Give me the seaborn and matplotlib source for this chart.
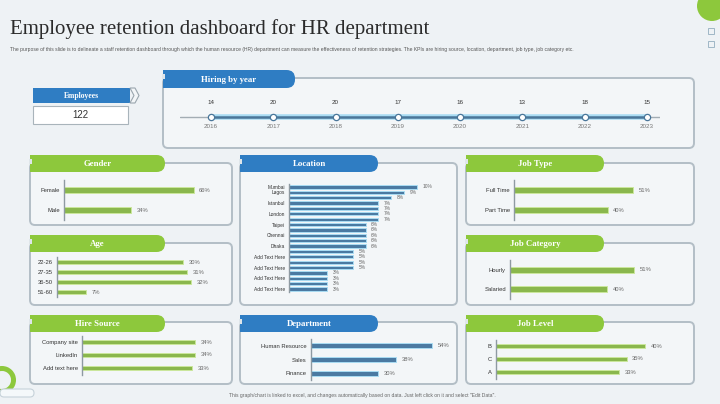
import matplotlib
matplotlib.use('Agg')
import matplotlib.pyplot as plt
from matplotlib.patches import FancyBboxPatch, Rectangle, Polygon, Circle, Wedge
import seaborn as sns
import pandas as pd

# data
years = [2016, 2017, 2018, 2019, 2020, 2021, 2022, 2023]
hires = [14, 20, 20, 17, 16, 13, 18, 15]
employees = 122

gender = ['Female', 'Male']
gender_pct = [66, 34]

age_groups = ['22-26', '27-35', '36-50', '51-60']
age_pct = [30, 31, 32, 7]

hire_source = ['Company site', 'LinkedIn', 'Add text here']
hire_pct = [34, 34, 33]

locations = ['Mumbai', 'Lagos', '', 'Istanbul', '', 'London', '', 'Taipei', '',
             'Chennai', '', 'Dhaka', '', 'Add Text Here', '', 'Add Text Here', '',
             'Add Text Here', '', 'Add Text Here']
loc_pct = [10, 9, 8, 7, 7, 7, 7, 6, 6, 6, 6, 6, 5, 5, 5, 5, 3, 3, 3, 3]

departments = ['Human Resource', 'Sales', 'Finance']
dept_pct = [54, 38, 30]

job_types = ['Full Time', 'Part Time']
jobtype_pct = [51, 40]

job_cats = ['Hourly', 'Salaried']
jobcat_pct = [51, 40]

job_levels = ['B', 'C', 'A']
level_pct = [40, 35, 33]

W, H = 720, 404
GREEN = '#8dc83c'
GREEN_EDGE = '#cbe79c'
BLUE = '#2f7dc3'
BAR_BLUE = '#3d7bb0'
BAR_BLUE_EDGE = '#a9dcf3'
SERIF = ['Liberation Serif', 'DejaVu Serif']

sns.set_theme(style='white')
plt.rcParams['font.family'] = ['Liberation Sans', 'DejaVu Sans']

fig = plt.figure(figsize=(7.2, 4.04), dpi=100, facecolor='#eef2f5')

# background layer in pixel coordinates
bg = fig.add_axes([0, 0, 1, 1])
bg.set_xlim(0, W)
bg.set_ylim(H, 0)
bg.axis('off')


def add_ax(x0, y0, x1, y1):
    a = fig.add_axes([x0 / W, 1 - y1 / H, (x1 - x0) / W, (y1 - y0) / H])
    a.set_facecolor('none')
    return a


def frame(x0, y0, x1, y1):
    bg.add_patch(FancyBboxPatch((x0, y0), x1 - x0, y1 - y0,
                                boxstyle='round,pad=0,rounding_size=5',
                                fc='#f3f6f8', ec='#b3bec6', lw=1.4))


def header(x0, y0, x1, y1, text, color):
    bg.add_patch(FancyBboxPatch((x0, y0), x1 - x0, y1 - y0,
                                boxstyle='round,pad=0,rounding_size=8.5',
                                fc=color, ec='none'))
    bg.add_patch(Rectangle((x0, y0), (x1 - x0) / 2, y1 - y0, fc=color, ec='none'))
    bg.add_patch(Rectangle((x0 - 1, y0 + 4), 3, 5, fc='#dfe6ea', ec='none'))
    bg.text((x0 + x1) / 2, (y0 + y1) / 2 + 0.5, text, ha='center', va='center',
            color='white', fontsize=6.3, fontweight='bold', family=SERIF)


def bar_panel(box, labels, values, xmax, color, edge, width, fs=4.2):
    ax = add_ax(*box)
    df = pd.DataFrame({'pos': range(len(labels)), 'pct': values})
    sns.barplot(data=df, x='pct', y='pos', orient='h', color=color, width=width,
                edgecolor=edge, linewidth=0.7, ax=ax)
    ax.set_yticks(range(len(labels)), labels=labels)
    ax.bar_label(ax.containers[0], labels=[f'{v}%' for v in values],
                 padding=4, fontsize=fs, color='#666666')
    ax.set_xlim(0, xmax)
    ax.set_xticks([])
    ax.set_xlabel('')
    ax.set_ylabel('')
    for s in ['top', 'right', 'bottom']:
        ax.spines[s].set_visible(False)
    ax.spines['left'].set_color('#8e9aa2')
    ax.spines['left'].set_linewidth(1)
    ax.tick_params(axis='y', length=0, pad=3, labelsize=fs, labelcolor='#333333')
    return ax


# title and subtitle
bg.text(10, 29, 'Employee retention dashboard for HR department', fontsize=15,
        family=SERIF, color='#2b2b2b', va='center')
bg.text(10, 50, 'The purpose of this slide is to delineate a staff retention dashboard through which '
        'the human resource (HR) department can measure the effectiveness of retention strategies. '
        'The KPIs are hiring source, location, department, job type, job category etc.',
        fontsize=3.6, color='#555555', va='center')

# corner decorations
bg.add_patch(Circle((712, 6), 15, fc=GREEN, ec='none'))
for yy in (31, 44):
    bg.add_patch(Rectangle((708, yy - 3), 6, 6, fc='none', ec='#9fb7c6', lw=0.7))
bg.add_patch(Wedge((2, 380), 14, 0, 360, width=5, fc=GREEN, ec='none'))
bg.add_patch(FancyBboxPatch((0, 389), 34, 8, boxstyle='round,pad=0,rounding_size=4',
                            fc='#f4f8fa', ec='#c6d2da', lw=0.8))

# employees card
bg.add_patch(Rectangle((33, 88), 97, 15, fc=BLUE, ec='none'))
bg.add_patch(Polygon([[130, 88], [135, 88], [139, 95.5], [135, 103], [130, 103], [134, 95.5]],
                     closed=True, fc='#f3f6f8', ec='#9aa6ae', lw=0.8))
bg.text(81, 95.5, 'Employees', ha='center', va='center', color='white', fontsize=5.5,
        fontweight='bold', family=SERIF)
bg.add_patch(Rectangle((33, 106), 95, 18, fc='white', ec='#a9b4bb', lw=0.8))
bg.text(80, 115.5, str(employees), ha='center', va='center', color='#333333', fontsize=7)

# panel frames and headers
frame(163, 78, 694, 148)
header(163, 70, 295, 88, 'Hiring by year', BLUE)

frame(30, 163, 232, 225)
header(30, 155, 165, 172, 'Gender', GREEN)
frame(30, 243, 232, 305)
header(30, 235, 165, 252, 'Age', GREEN)
frame(30, 322, 232, 384)
header(30, 315, 165, 332, 'Hire Source', GREEN)

frame(240, 163, 457, 305)
header(240, 155, 378, 172, 'Location', BLUE)
frame(240, 322, 457, 384)
header(240, 315, 378, 332, 'Department', BLUE)

frame(466, 163, 694, 225)
header(466, 155, 604, 172, 'Job Type', GREEN)
frame(466, 243, 694, 305)
header(466, 235, 604, 252, 'Job Category', GREEN)
frame(466, 322, 694, 384)
header(466, 315, 604, 332, 'Job Level', GREEN)

# hiring timeline
ax = add_ax(180, 99, 660, 135)
ax.axhline(0, color='#a3adb4', lw=1, zorder=1)
sns.lineplot(x=years, y=[0] * len(years), color=BAR_BLUE_EDGE, lw=4, ax=ax, zorder=2)
sns.lineplot(x=years, y=[0] * len(years), color='#4a7699', lw=1.8, ax=ax, zorder=3,
             marker='o', markersize=4.5, markerfacecolor='white',
             markeredgecolor='#4a7699', markeredgewidth=0.9)
for yr, h in zip(years, hires):
    ax.annotate(str(h), (yr, 0), xytext=(0, 9), textcoords='offset points',
                ha='center', va='bottom', fontsize=4.5, color='#333333')
ax.set_xlim(2015.5, 2023.21)
ax.set_ylim(-1, 1)
ax.set_xticks(years, labels=[str(y) for y in years])
ax.spines['bottom'].set_position(('data', 0))
ax.spines['bottom'].set_visible(False)
for s in ['top', 'right', 'left']:
    ax.spines[s].set_visible(False)
ax.set_yticks([])
ax.tick_params(axis='x', length=0, pad=5, labelsize=4.5, labelcolor='#777777')

# bar panels
bar_panel((64, 180, 225, 220), gender, gender_pct, 82, GREEN, GREEN_EDGE, 0.32)
bar_panel((57, 257, 225, 297), age_groups, age_pct, 40, GREEN, GREEN_EDGE, 0.42)
bar_panel((82, 335.5, 225, 374.5), hire_source, hire_pct, 43, GREEN, GREEN_EDGE, 0.3)
bar_panel((289, 184.3, 450, 291.7), locations, loc_pct, 12.6, BAR_BLUE, BAR_BLUE_EDGE, 0.62, fs=3.5)
bar_panel((311, 339, 450, 380), departments, dept_pct, 62, BAR_BLUE, BAR_BLUE_EDGE, 0.38)
bar_panel((514, 180, 685, 220), job_types, jobtype_pct, 73, GREEN, GREEN_EDGE, 0.32)
bar_panel((510, 260, 685, 299), job_cats, jobcat_pct, 72, GREEN, GREEN_EDGE, 0.32)
bar_panel((496, 339.5, 690, 378.5), job_levels, level_pct, 52, GREEN, GREEN_EDGE, 0.3)

# footer
bg.text(362, 396, 'This graph/chart is linked to excel, and changes automatically based on data. '
        'Just left click on it and select "Edit Data".', ha='center', va='center',
        fontsize=3.6, color='#666666')

fig.savefig('out.png', dpi=100, facecolor=fig.get_facecolor())
